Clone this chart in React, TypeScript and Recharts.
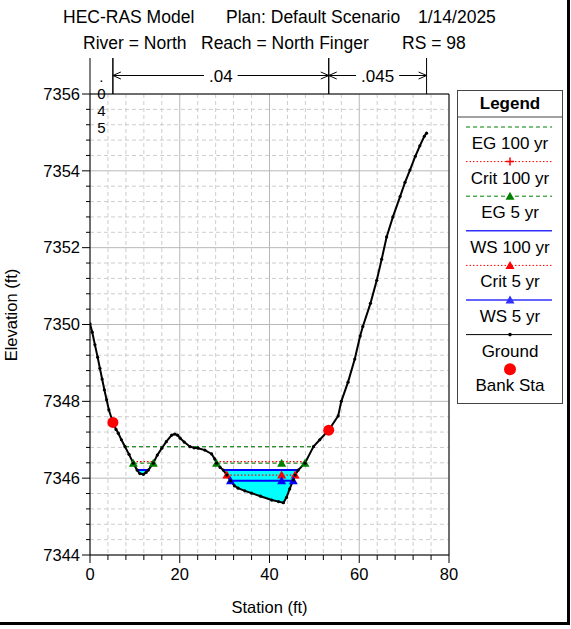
import React from 'react';
import { ComposedChart, Line, Area, XAxis, YAxis, CartesianGrid, ReferenceLine, Legend } from 'recharts';

// ground survey points (station ft, elevation ft)
const groundSta = [
  0, 0.5, 1.1, 1.7, 2.2, 2.7, 3.2, 3.7, 4.2, 5.1, 5.8, 6.3, 7.0, 7.8, 8.7, 9.65, 10.5, 11.1, 11.9, 12.5,
  13.0, 14.1, 15.0, 16.0, 17.0, 18.2, 18.9, 19.5, 20.1, 21.0, 22.3, 23.2, 24.1, 25.6, 27.1, 27.8, 28.2, 29.0,
  29.7, 30.5, 31.3, 32.2, 33.0, 34.5, 36.0, 38.0, 40.5, 42.0, 43.1, 43.8, 44.5, 45.3, 45.7, 46.4, 47.9, 49.8,
  51.2, 53.2, 55.3, 56.0, 57.5, 59.0, 60.2, 60.8, 62.5, 63.9, 65.0, 66.1, 67.5, 69.1, 70.2, 71.3, 72.5, 73.5,
  74.5, 75.0,
];
const groundElev = [
  7350.02, 7349.8, 7349.47, 7349.15, 7348.86, 7348.58, 7348.3, 7348.04, 7347.78, 7347.45, 7347.27, 7347.17,
  7347.0, 7346.82, 7346.62, 7346.39, 7346.21, 7346.12, 7346.1, 7346.15, 7346.21, 7346.39, 7346.6, 7346.78,
  7346.95, 7347.12, 7347.15, 7347.12, 7347.04, 7346.94, 7346.82, 7346.79, 7346.78, 7346.73, 7346.63, 7346.5,
  7346.39, 7346.28, 7346.21, 7346.08, 7345.93, 7345.8, 7345.74, 7345.67, 7345.61, 7345.53, 7345.43, 7345.39,
  7345.36, 7345.5, 7345.72, 7345.95, 7346.08, 7346.21, 7346.39, 7346.82, 7347.0, 7347.25, 7347.62, 7348.0,
  7348.5, 7349.1, 7349.7, 7349.95, 7350.55, 7351.15, 7351.7, 7352.28, 7352.8, 7353.33, 7353.7, 7354.02,
  7354.38, 7354.65, 7354.9, 7354.98,
];

const bankSta = [5.1, 53.2];
const bankElev = [7347.45, 7347.25];

// manning's n regions
const nBreaks = [0, 5.1, 53.2, 75];
const nValues = ['.045', '.04', '.045'];

// profiles
const EG100 = 7346.82;
const eg100Spans = [[7.8, 49.8]];
const CRIT100 = 7346.43;
const crit100Spans = [[9.6, 14.2], [28.1, 48.0]];
const EG5 = 7346.39;
const eg5Spans = [[9.65, 14.1], [28.2, 47.9]];
const eg5Marks = [9.65, 14.1, 28.2, 42.7, 47.9];
const WS100 = 7346.21;
const ws100Spans = [[10.5, 13.0], [29.7, 46.4]];
const CRIT5 = 7346.08;
const crit5Spans = [[30.5, 45.7]];
const crit5Marks = [30.5, 42.7, 45.7];
const WS5 = 7345.93;
const ws5Spans = [[31.3, 45.3]];
const ws5Marks = [31.3, 42.7, 45.3];

const xMajor = [0, 20, 40, 60, 80];
const yMajor = [7344, 7346, 7348, 7350, 7352, 7354, 7356];
const xTicks: number[] = [];
for (let i = 0; i <= 20; i++) xTicks.push(i * 4);
const yTicks: number[] = [];
for (let i = 0; i <= 30; i++) yTicks.push(+(7344 + i * 0.4).toFixed(1));

const FONT = '"Liberation Sans", Arial, sans-serif';

const ground = groundSta.map((x, i) => ({ x, y: groundElev[i] }));
const banks = bankSta.map((x, i) => ({ x, y: bankElev[i] }));

function profileData(elev: number, spans: number[][], marks: number[] = []) {
  const out: any[] = [];
  spans.forEach(([a, b], i) => {
    if (i > 0) out.push({ x: a, y: null });
    const xs = [a, ...marks.filter(m => m > a && m < b), b];
    xs.forEach(x => out.push({ x, y: elev, mark: marks.includes(x) }));
  });
  return out;
}

const waterFill = (span: number[], ws: number) =>
  ground.filter(d => d.x >= span[0] && d.x <= span[1]).map(d => ({ x: d.x, range: [d.y, ws] }));

const triDot = (color: string) => (p: any) => {
  const k = `${p.cx}-${p.cy}-${p.index}`;
  if (!p.payload || !p.payload.mark) return <g key={k} />;
  return (
    <path key={k} d={`M${p.cx},${p.cy - 4.5} L${p.cx + 4.5},${p.cy + 3.5} L${p.cx - 4.5},${p.cy + 3.5} Z`} fill={color} />
  );
};

const gridLine = (p: any) => {
  const major = p.index % 5 === 0;
  return (
    <line
      key={`g-${p.x1}-${p.y1}-${p.index}`}
      x1={p.x1} y1={p.y1} x2={p.x2} y2={p.y2}
      stroke={major ? '#b8b8b8' : '#cdcdcd'}
      strokeDasharray={major ? undefined : '4 3'}
    />
  );
};

const XTick = (p: any) => {
  const { x, y, payload } = p;
  const major = xMajor.includes(payload.value);
  return (
    <g>
      <line x1={x} y1={y} x2={x} y2={y + (major ? 8 : 5)} stroke="#000" />
      {major && (
        <text x={x} y={y + 24.5} textAnchor="middle" fontSize={16.5} fontFamily={FONT} fill="#000">
          {payload.value}
        </text>
      )}
    </g>
  );
};

const YTick = (p: any) => {
  const { x, y, payload } = p;
  const major = yMajor.some(v => Math.abs(v - payload.value) < 1e-6);
  return (
    <g>
      <line x1={x - (major ? 8 : 4)} y1={y} x2={x} y2={y} stroke="#000" />
      {major && (
        <text x={x - 10} y={y} dy="0.35em" textAnchor="end" fontSize={16.5} fontFamily={FONT} fill="#000">
          {payload.value}
        </text>
      )}
    </g>
  );
};

// n value bar drawn above the plot
const renderNBar = (p: any, label: string) => {
  const { x1, x2, y1 } = p;
  const top = y1 - 36;
  const row = y1 - 18.5;
  const fs = 17;
  const w = [...label].reduce((s, c) => s + (c === '.' ? 0.278 : 0.556), 0) * fs;
  const cx = (x1 + x2) / 2;
  const txt = { fontFamily: FONT, fill: '#000', textAnchor: 'middle' as const };
  if (x2 - x1 < w + 30) {
    // not enough room: stack the characters
    return (
      <g>
        <line x1={x1} y1={y1} x2={x1} y2={top} stroke="#000" />
        <line x1={x2} y1={y1} x2={x2} y2={top} stroke="#000" />
        {[...label].map((c, i) => (
          <text key={i} x={cx} y={row + 6.5 + i * 17} fontSize={15} {...txt}>{c}</text>
        ))}
      </g>
    );
  }
  return (
    <g>
      <line x1={x1} y1={y1} x2={x1} y2={top} stroke="#000" />
      <line x1={x2} y1={y1} x2={x2} y2={top} stroke="#000" />
      <line x1={x1} y1={row} x2={cx - w / 2 - 5} y2={row} stroke="#000" />
      <line x1={cx + w / 2 + 5} y1={row} x2={x2} y2={row} stroke="#000" />
      <polyline points={`${x1 + 8},${row - 3.5} ${x1},${row} ${x1 + 8},${row + 3.5}`} fill="none" stroke="#000" />
      <polyline points={`${x2 - 8},${row - 3.5} ${x2},${row} ${x2 - 8},${row + 3.5}`} fill="none" stroke="#000" />
      <text x={cx} y={row + 6} fontSize={fs} {...txt}>{label}</text>
    </g>
  );
};

const legendItems = [
  { name: 'EG 100 yr', color: '#008000', dash: '4 3', marker: '' },
  { name: 'Crit 100 yr', color: '#ff0000', dash: '1.5 2', marker: 'plus' },
  { name: 'EG 5 yr', color: '#008000', dash: '4 3', marker: 'tri' },
  { name: 'WS 100 yr', color: '#3030ff', dash: undefined, marker: '' },
  { name: 'Crit 5 yr', color: '#ff0000', dash: '1.5 2', marker: 'tri' },
  { name: 'WS 5 yr', color: '#3030ff', dash: undefined, marker: 'tri' },
  { name: 'Ground', color: '#000', dash: undefined, marker: 'dot' },
  { name: 'Bank Sta', color: '#ff0000', dash: undefined, marker: 'bank' },
];

const LegendBox = () => (
  <svg width={106} height={314} style={{ display: 'block' }}>
    <rect x={0.5} y={0.5} width={105} height={313} fill="#fff" stroke="#444" />
    <text x={53} y={19} textAnchor="middle" fontSize={17} fontWeight="bold" fontFamily={FONT}>Legend</text>
    <line x1={0} y1={27} x2={106} y2={27} stroke="#444" />
    {legendItems.map((it, i) => {
      const ly = 37 + i * 34.6;
      const mx = 53;
      return (
        <g key={it.name}>
          {it.marker !== 'bank' && (
            <line x1={9} y1={ly} x2={95} y2={ly} stroke={it.color} strokeDasharray={it.dash} strokeWidth={it.color === '#3030ff' ? 1.5 : 1} />
          )}
          {it.marker === 'tri' && (
            <path d={`M${mx},${ly - 4.5} L${mx + 4.5},${ly + 3.5} L${mx - 4.5},${ly + 3.5} Z`} fill={it.color} />
          )}
          {it.marker === 'plus' && (
            <path d={`M${mx - 4},${ly} L${mx + 4},${ly} M${mx},${ly - 4} L${mx},${ly + 4}`} stroke={it.color} strokeWidth={1.5} />
          )}
          {it.marker === 'dot' && <circle cx={mx} cy={ly} r={1.8} fill="#000" />}
          {it.marker === 'bank' && <circle cx={mx} cy={ly} r={6} fill="#ff0000" />}
          <text x={mx} y={ly + 22} textAnchor="middle" fontSize={17} fontFamily={FONT}>{it.name}</text>
        </g>
      );
    })}
  </svg>
);

export default function App() {
  return (
    <div style={{ position: 'absolute', left: 0, top: 0, width: 571, height: 629, background: '#fff', fontFamily: FONT }}>
      <ComposedChart width={571} height={629} margin={{ top: 94, right: 122, bottom: 34, left: 0 }}>
        <CartesianGrid horizontal={gridLine} vertical={gridLine} />
        <XAxis
          type="number" dataKey="x" domain={[0, 80]} ticks={xTicks} interval={0} allowDataOverflow
          tick={XTick} tickSize={0} tickMargin={0} tickLine={false} axisLine={{ stroke: '#000' }} height={40}
        />
        <YAxis
          type="number" domain={[7344, 7356]} ticks={yTicks} interval={0} allowDataOverflow
          tick={YTick} tickSize={0} tickMargin={0} tickLine={false} axisLine={{ stroke: '#000' }} width={90}
        />
        <ReferenceLine y={7356} stroke="#000" ifOverflow="visible" />
        <ReferenceLine x={80} stroke="#000" ifOverflow="visible" />
        {nValues.map((n, i) => (
          <ReferenceLine
            key={`n-${i}`}
            segment={[{ x: nBreaks[i], y: 7356 }, { x: nBreaks[i + 1], y: 7356 }]}
            ifOverflow="visible"
            shape={(p: any) => renderNBar(p, n)}
          />
        ))}
        {ws100Spans.map((s, i) => (
          <Area
            key={`fill-${i}`}
            data={waterFill(s, WS100)}
            dataKey="range"
            type="linear"
            stroke="none"
            fill="#00ffff"
            fillOpacity={1}
            dot={false}
            activeDot={false}
            isAnimationActive={false}
          />
        ))}
        <Line data={profileData(EG100, eg100Spans)} dataKey="y" type="linear" stroke="#008000" strokeDasharray="4 3" dot={false} activeDot={false} isAnimationActive={false} />
        <Line data={profileData(CRIT100, crit100Spans)} dataKey="y" type="linear" stroke="#ff0000" strokeDasharray="1.5 2" strokeWidth={1.2} dot={false} activeDot={false} isAnimationActive={false} />
        <Line data={profileData(WS100, ws100Spans)} dataKey="y" type="linear" stroke="#0000ff" strokeWidth={2} dot={false} activeDot={false} isAnimationActive={false} />
        <Line data={profileData(CRIT5, crit5Spans, crit5Marks)} dataKey="y" type="linear" stroke="#ff0000" strokeDasharray="1.5 2" strokeWidth={1.2} dot={triDot('#ff0000')} activeDot={false} isAnimationActive={false} />
        <Line data={profileData(WS5, ws5Spans, ws5Marks)} dataKey="y" type="linear" stroke="#0000ff" strokeWidth={2} dot={triDot('#0000ff')} activeDot={false} isAnimationActive={false} />
        <Line data={profileData(EG5, eg5Spans, eg5Marks)} dataKey="y" type="linear" stroke="#008000" strokeDasharray="4 3" dot={triDot('#008000')} activeDot={false} isAnimationActive={false} />
        <Line data={ground} dataKey="y" type="linear" stroke="#000" strokeWidth={2} dot={{ r: 1.6, fill: '#000', stroke: 'none' }} activeDot={false} isAnimationActive={false} />
        <Line data={banks} dataKey="y" type="linear" stroke="none" dot={{ r: 5.5, fill: '#ff0000', stroke: 'none' }} activeDot={false} isAnimationActive={false} />
        <Legend
          layout="vertical" align="center" verticalAlign="middle"
          wrapperStyle={{ left: 457, top: 90, width: 106, height: 314 }}
          content={() => <LegendBox />}
        />
      </ComposedChart>
      <svg width={571} height={629} style={{ position: 'absolute', left: 0, top: 0, pointerEvents: 'none' }}>
        <g fontFamily={FONT} fontSize={17.5} fill="#000">
          <text x={63} y={22.5}>HEC-RAS Model</text>
          <text x={226} y={22.5}>Plan: Default Scenario</text>
          <text x={418} y={22.5}>1/14/2025</text>
          <text x={83} y={49}>River = North</text>
          <text x={201} y={49}>Reach = North Finger</text>
          <text x={402} y={49}>RS = 98</text>
        </g>
        <text x={269.5} y={613} textAnchor="middle" fontFamily={FONT} fontSize={16.5}>Station (ft)</text>
        <text x={17} y={315} textAnchor="middle" fontFamily={FONT} fontSize={16.5} transform="rotate(-90, 17, 315)">Elevation (ft)</text>
      </svg>
      <div style={{ position: 'absolute', left: 0, top: 0, width: 570, height: 625, borderRight: '3px solid #000', borderBottom: '3px solid #000', boxSizing: 'border-box', pointerEvents: 'none' }} />
    </div>
  );
}
